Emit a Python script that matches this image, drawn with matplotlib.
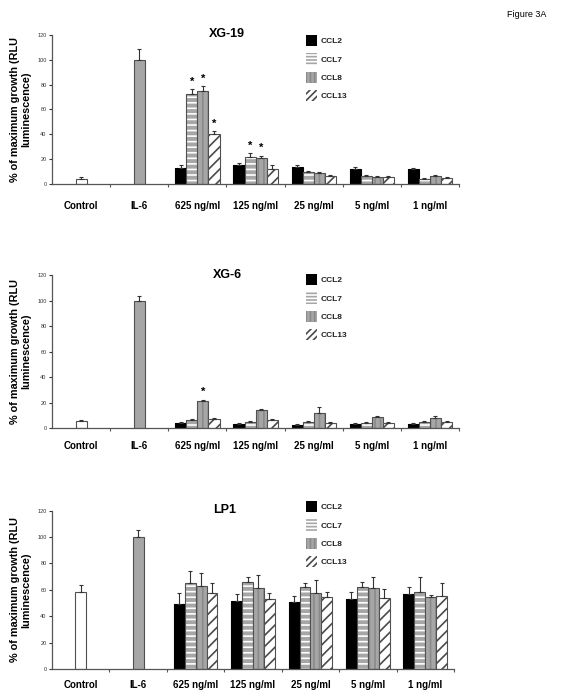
import numpy as np
import matplotlib
matplotlib.use("Agg")
import matplotlib.pyplot as plt
import matplotlib.patches as mpatches
from matplotlib.ticker import FixedLocator

plt.rcParams['font.family'] = ['Liberation Sans', 'DejaVu Sans']
plt.rcParams['hatch.linewidth'] = 1.2

categories = ['Control', 'IL-6', '625 ng/ml', '125 ng/ml', '25 ng/ml', '5 ng/ml', '1 ng/ml']
chemokines = ['CCL2', 'CCL7', 'CCL8', 'CCL13']

# XG-19
xg19_ctrl, xg19_ctrl_err = 4, 1.8
xg19_il6, xg19_il6_err = 100, 8.5
xg19_vals = [[13, 15, 14, 12.3, 11.8],
             [72.5, 21.7, 9.4, 6.2, 4.3],
             [75, 21.4, 8.6, 5.9, 6.2],
             [40.5, 12, 6.2, 5.4, 4.6]]
xg19_errs = [[2, 2, 1.5, 1.5, 1.5],
             [4, 3, 1.5, 1.5, 1],
             [3.5, 1.5, 1, 1, 1],
             [2, 3, 1, 1, 1]]
xg19_stars = [(0, 1), (0, 2), (0, 3), (1, 1), (1, 2)]

# XG-6
xg6_ctrl, xg6_ctrl_err = 5.5, 1
xg6_il6, xg6_il6_err = 100, 4
xg6_vals = [[3.9, 2.9, 2.4, 2.9, 2.9],
            [6.5, 5, 5, 4.2, 4.7],
            [21, 13.9, 11.8, 8.6, 8.1],
            [6.8, 6, 3.9, 3.9, 4.7]]
xg6_errs = [[1, 0.8, 0.8, 0.8, 0.8],
            [1, 0.8, 0.8, 0.8, 0.8],
            [1.3, 1.3, 4.7, 1.1, 1.3],
            [0.8, 0.8, 0.8, 0.8, 0.8]]
xg6_stars = [(0, 2)]

# LP1
lp1_ctrl, lp1_ctrl_err = 58.6, 5
lp1_il6, lp1_il6_err = 100, 5.5
lp1_vals = [[49.2, 51.8, 51, 53, 56.8],
            [65.4, 66.2, 62.4, 62.4, 58.6],
            [63.1, 61.1, 57.3, 61.6, 54.3],
            [57.3, 53, 54.3, 54, 55.3]]
lp1_errs = [[8, 4.8, 4.3, 5.6, 5.6],
            [9, 3.8, 2.5, 3.8, 10.8],
            [9.4, 10, 10, 7.8, 1.7],
            [7.6, 4.3, 4.3, 6.6, 10.1]]
lp1_stars = []

grey = '#a6a6a6'
edge = '#505050'
bw = 0.19

# bar styles per chemokine: face, hatch colour, hatch
styles = [('black', 'black', None),
          (grey, 'white', '---'),
          (grey, '#8a8a8a', '|||'),
          ('white', '#4a4a4a', '///')]
legend_hatches = [None, '-----', '||||', '/////']


def draw_panel(ax, title, ctrl, ctrl_err, il6, il6_err, vals, errs, stars, legend_y, label_pad):
    x = np.arange(len(categories))
    ax.bar(x[0], ctrl, bw, color='white', edgecolor=edge, linewidth=0.8)
    ax.bar(x[1], il6, bw, color=grey, edgecolor=edge, linewidth=0.8)
    ax.errorbar([x[0], x[1]], [ctrl, il6], yerr=[[0, 0], [ctrl_err, il6_err]],
                fmt='none', ecolor='#333333', elinewidth=0.8, capsize=1.5, capthick=0.8)
    gx = x[2:]
    handles = []
    for k in range(4):
        pos = gx + (k - 1.5) * bw
        face, hcol, hatch = styles[k]
        ax.bar(pos, vals[k], bw, color=face, edgecolor=hcol, hatch=hatch, linewidth=0)
        ax.bar(pos, vals[k], bw, fill=False, edgecolor=edge if k else 'black', linewidth=0.8)
        ax.errorbar(pos, vals[k], yerr=[np.zeros(5), errs[k]], fmt='none', ecolor='#333333',
                    elinewidth=0.8, capsize=1.5, capthick=0.8)
        handles.append(mpatches.Patch(facecolor=face, edgecolor=hcol, hatch=legend_hatches[k],
                                      linewidth=0))
    for g, k in stars:
        xs = gx[g] + (k - 1.5) * bw
        ax.text(xs, vals[k][g] + errs[k][g] + 2, '*', ha='center', va='bottom',
                fontsize=8, fontweight='bold')

    ax.set_xlim(-0.5, 6.5)
    ax.set_ylim(0, 120)
    ax.set_yticks(range(0, 121, 20))
    ax.tick_params(axis='y', labelsize=4, length=2, width=0.8, pad=2, colors='#333333')
    ax.set_xticks(x)
    ax.set_xticklabels(categories, fontsize=7, fontweight='bold')
    ax.xaxis.set_minor_locator(FixedLocator(np.arange(0.5, 6.6, 1)))
    ax.tick_params(axis='x', which='major', length=0, pad=label_pad)
    ax.tick_params(axis='x', which='minor', length=2, width=0.8, color='#555555')
    for s in ['top', 'right']:
        ax.spines[s].set_visible(False)
    for s in ['left', 'bottom']:
        ax.spines[s].set_color('#555555')
        ax.spines[s].set_linewidth(0.9)
    ax.set_ylabel('% of maximum growth (RLU\nluminescence)', fontsize=7.8,
                  fontweight='bold', labelpad=4, linespacing=1.15)
    ax.set_title(title, fontsize=9, fontweight='bold', x=0.43, y=0.93)
    leg = ax.legend(handles, chemokines, loc='upper left', bbox_to_anchor=(306 / 566, legend_y),
                    bbox_transform=ax.figure.transFigure, frameon=False,
                    prop={'size': 6, 'weight': 'bold'},
                    handlelength=1.3, handleheight=1.7, handletextpad=0.5, labelspacing=0.85,
                    borderpad=0, borderaxespad=0)
    for t in leg.get_texts():
        t.set_color('#222222')


fig = plt.figure(figsize=(5.66, 6.95), dpi=100)
ax1 = fig.add_axes([0.092, 0.735, 0.719, 0.215])
ax2 = fig.add_axes([0.092, 0.384, 0.719, 0.220])
ax3 = fig.add_axes([0.092, 0.0374, 0.71, 0.228])

draw_panel(ax1, 'XG-19', xg19_ctrl, xg19_ctrl_err, xg19_il6, xg19_il6_err,
           xg19_vals, xg19_errs, xg19_stars, 1 - 35 / 695, 12)
draw_panel(ax2, 'XG-6', xg6_ctrl, xg6_ctrl_err, xg6_il6, xg6_il6_err,
           xg6_vals, xg6_errs, xg6_stars, 1 - 274 / 695, 9)
draw_panel(ax3, 'LP1', lp1_ctrl, lp1_ctrl_err, lp1_il6, lp1_il6_err,
           lp1_vals, lp1_errs, lp1_stars, 1 - 501 / 695, 8)

fig.text(0.965, 0.985, 'Figure 3A', ha='right', va='top', fontsize=6.5)

fig.savefig('out.png', dpi=100)
